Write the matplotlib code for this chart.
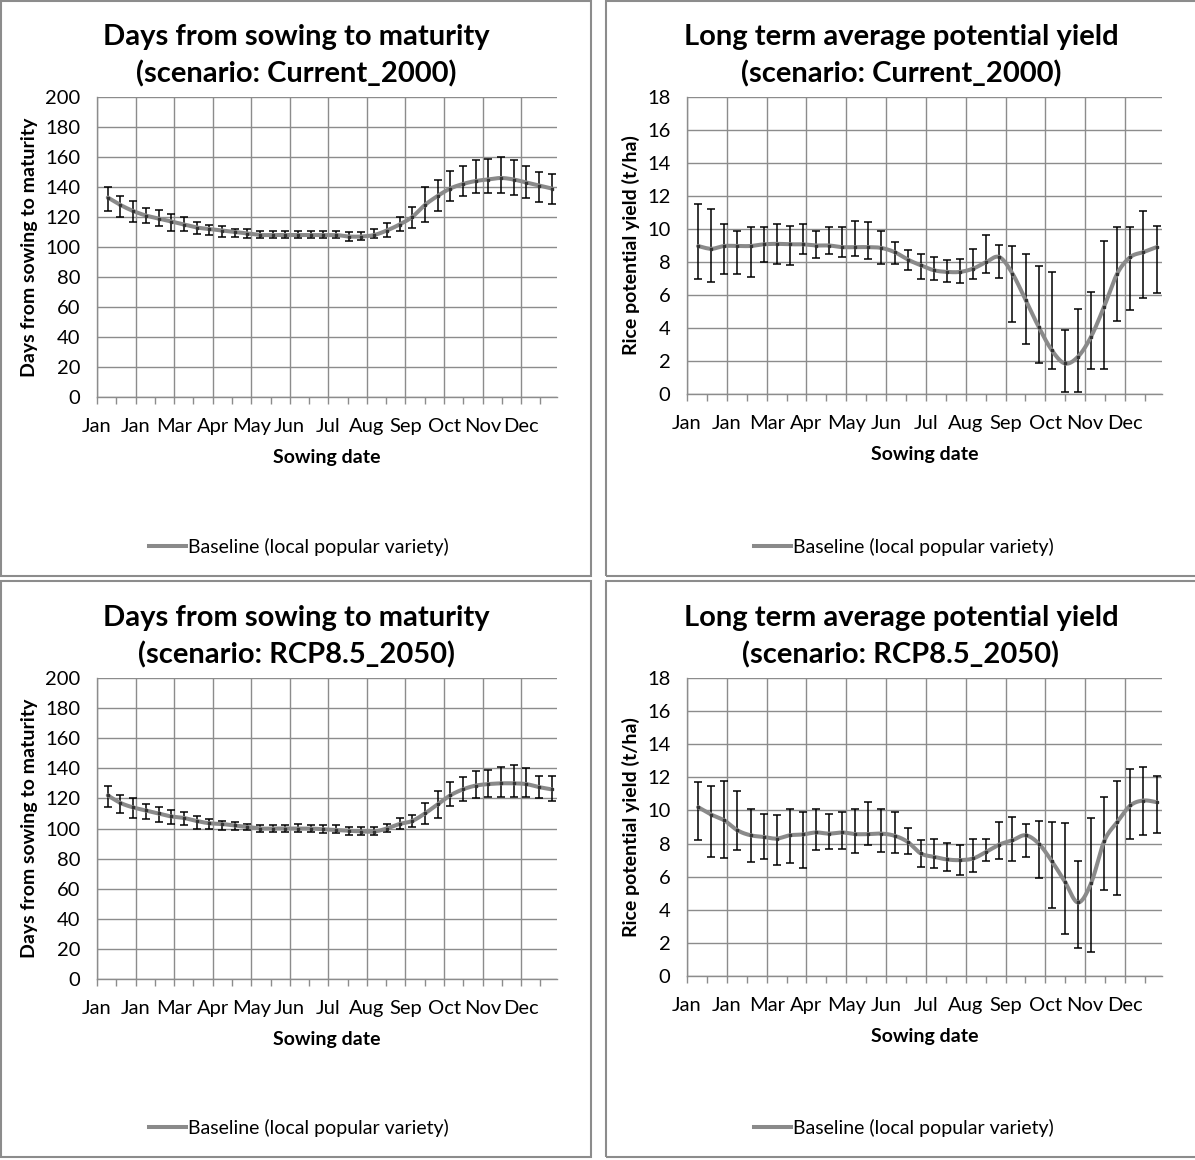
import matplotlib
matplotlib.use("Agg")
import matplotlib.pyplot as plt
from matplotlib.lines import Line2D
from matplotlib.patches import Rectangle
import numpy as np

plt.rcParams['font.family'] = ['Lato', 'DejaVu Sans']

# sowing dates: 36 dates, every 10 days from ~9 Jan (day of year)
sow_day = np.arange(36) * 10 + 8.5
month_labels = ["Jan", "Jan", "Mar", "Apr", "May", "Jun", "Jul", "Aug", "Sep", "Oct", "Nov", "Dec"]

# days from sowing to maturity, Current_2000
days_cur = [133, 128, 124, 121, 119, 117, 115, 113, 112, 111, 110, 109,
            108, 108, 108, 108, 108, 108, 108, 107, 107, 108, 111, 115,
            120, 128, 134, 139, 142, 144, 145, 146, 145, 143, 141, 139]
days_cur_hi = [140, 134, 131, 126, 125, 122, 120, 117, 115, 114, 112, 112,
               111, 111, 111, 111, 111, 111, 111, 110, 110, 112, 116, 120,
               127, 140, 145, 151, 154, 158, 159, 160, 158, 154, 150, 149]
days_cur_lo = [124, 120, 117, 116, 114, 111, 111, 109, 108, 107, 107, 106,
               106, 106, 106, 106, 106, 106, 106, 104, 105, 106, 107, 111,
               113, 117, 124, 131, 134, 136, 136, 136, 135, 133, 130, 129]

# days from sowing to maturity, RCP8.5_2050
days_rcp = [122, 117, 114, 112, 110, 108, 107, 105, 103.5, 103, 102, 101,
            100, 100, 100, 100, 100, 99.5, 99, 98.5, 98, 98, 100, 103,
            105, 110, 116, 122, 126, 128.5, 129.5, 130, 130, 129.5, 127.5, 126]
days_rcp_hi = [128, 122, 120, 116, 114, 112, 111, 108, 106, 105, 104, 103,
               102, 102, 102, 103, 102, 102, 102, 101, 101, 101, 103, 107,
               109, 117, 125, 131, 134, 138.5, 139, 141, 142, 140, 135, 135]
days_rcp_lo = [114, 110, 107, 106, 104, 103, 102, 100, 100, 99, 99, 99,
               98, 98, 98, 98, 98, 97, 97, 96, 96, 96, 98, 100,
               101, 103, 107, 115, 118, 120, 121, 121, 121, 121, 120, 118]

# rice potential yield (t/ha), Current_2000
yld_cur = [8.97, 8.8, 8.97, 8.97, 8.97, 9.07, 9.1, 9.07, 9.07, 9.0, 9.0, 8.9,
           8.9, 8.9, 8.85, 8.6, 8.15, 7.8, 7.5, 7.4, 7.4, 7.6, 8.0, 8.3,
           7.3, 5.7, 4.07, 2.66, 1.85, 2.26, 3.47, 5.3, 7.3, 8.3, 8.6, 8.9]
yld_cur_hi = [11.5, 11.2, 10.3, 9.86, 10.1, 10.1, 10.3, 10.2, 10.3, 9.9, 10.1, 10.1,
              10.5, 10.4, 9.9, 9.2, 8.7, 8.5, 8.3, 8.1, 8.2, 8.8, 9.66, 9.05,
              8.97, 8.47, 7.74, 7.38, 3.9, 5.16, 6.2, 9.25, 10.1, 10.1, 11.1, 10.2]
yld_cur_lo = [7.0, 6.8, 7.3, 7.3, 7.1, 8.0, 7.9, 7.8, 8.47, 8.25, 8.5, 8.3,
              8.35, 8.2, 7.9, 7.9, 7.5, 7.0, 6.9, 6.8, 6.7, 7.0, 7.34, 7.04,
              4.37, 3.06, 1.9, 1.5, 0.14, 0.14, 1.5, 1.5, 4.4, 5.08, 5.8, 6.15]

# rice potential yield (t/ha), RCP8.5_2050
yld_rcp = [10.2, 9.75, 9.4, 8.8, 8.5, 8.4, 8.3, 8.5, 8.55, 8.67, 8.6, 8.67,
           8.57, 8.57, 8.6, 8.47, 8.1, 7.4, 7.2, 7.04, 7.0, 7.1, 7.5, 7.94,
           8.2, 8.5, 8.0, 6.94, 5.7, 4.44, 5.6, 8.14, 9.3, 10.3, 10.6, 10.5]
yld_rcp_hi = [11.7, 11.5, 11.8, 11.2, 10.1, 9.8, 9.7, 10.1, 9.9, 10.1, 9.8, 9.9,
              10.1, 10.5, 10.1, 9.9, 8.95, 8.2, 8.3, 8.04, 7.9, 8.27, 8.3, 9.3,
              9.6, 9.2, 9.37, 9.3, 9.25, 6.96, 9.56, 10.8, 11.8, 12.5, 12.6, 12.1]
yld_rcp_lo = [8.2, 7.2, 7.1, 7.6, 6.9, 7.05, 6.7, 6.8, 6.55, 7.64, 7.7, 7.7,
              7.4, 7.9, 7.5, 7.4, 7.36, 6.6, 6.5, 6.35, 6.13, 6.3, 6.94, 7.06,
              6.96, 7.16, 5.9, 4.1, 2.56, 1.7, 1.45, 5.2, 4.9, 8.3, 8.5, 8.65]

W, H = 1195, 1160
MONTH = 30.4
GRID = "#8c8c8c"
LINE = "#8a8a8a"


def smooth(x, y, n=20):
    # excel-like smoothed line (bezier through the points)
    x = np.asarray(x, float)
    y = np.asarray(y, float)
    px = np.concatenate([[x[0]], x, [x[-1]]])
    py = np.concatenate([[y[0]], y, [y[-1]]])
    xs, ys = [], []
    t = np.linspace(0, 1, n)
    for i in range(1, len(px) - 2):
        p0x, p1x, p2x, p3x = px[i - 1], px[i], px[i + 1], px[i + 2]
        p0y, p1y, p2y, p3y = py[i - 1], py[i], py[i + 1], py[i + 2]
        c1x, c1y = p1x + (p2x - p0x) / 6, p1y + (p2y - p0y) / 6
        c2x, c2y = p2x - (p3x - p1x) / 6, p2y - (p3y - p1y) / 6
        bx = (1 - t) ** 3 * p1x + 3 * (1 - t) ** 2 * t * c1x + 3 * (1 - t) * t ** 2 * c2x + t ** 3 * p2x
        by = (1 - t) ** 3 * p1y + 3 * (1 - t) ** 2 * t * c1y + 3 * (1 - t) * t ** 2 * c2y + t ** 3 * p2y
        xs.extend(bx)
        ys.extend(by)
    return xs, ys


def px_axes(left, right, top, bottom):
    return [left / W, 1 - bottom / H, (right - left) / W, (bottom - top) / H]


def panel(rect, mean, hi, lo, ymax, ystep, title, ylabel, ylab_x, top_px, pcx):
    ax = fig.add_axes(rect)
    mean = np.asarray(mean)
    err = [mean - np.asarray(lo), np.asarray(hi) - mean]
    ax.errorbar(sow_day, mean, yerr=err, fmt="none", ecolor="black",
                elinewidth=1.1, capsize=2.6, capthick=1.1, zorder=3)
    sx, sy = smooth(sow_day, mean)
    ax.plot(sx, sy, color=LINE, lw=2.9, zorder=4, solid_capstyle="round")
    ax.plot(sow_day, mean, "s", ms=2.0, color="#333333", zorder=5)
    ax.set_xlim(0, 11.93 * MONTH)
    ax.set_ylim(0, ymax)
    ax.set_xticks(np.arange(12) * MONTH)
    ax.set_xticklabels(month_labels)
    ax.set_xticks(np.arange(12) * MONTH + MONTH / 2, minor=True)
    ax.set_yticks(np.arange(0, ymax + 0.01, ystep))
    ax.grid(True, which="major", color=GRID, lw=1.0)
    ax.set_axisbelow(True)
    for s in ["top", "right"]:
        ax.spines[s].set_visible(False)
    for s in ["left", "bottom"]:
        ax.spines[s].set_color(GRID)
        ax.spines[s].set_linewidth(1.0)
    ax.tick_params(axis="x", which="both", length=5, color=GRID, width=1.0, pad=10, labelsize=14.5)
    ax.tick_params(axis="y", length=0, pad=12, labelsize=14.5)
    ax.set_ylabel(ylabel, fontsize=14, fontweight="bold")
    ax.yaxis.set_label_coords(ylab_x, 0.5)
    ax.set_xlabel("Sowing date", fontsize=14, fontweight="bold", labelpad=10)

    # two-line title centred on the panel
    t1, t2 = title
    fig.text(pcx / W, 1 - (top_px + 37) / H, t1, ha="center", va="center",
             fontsize=21, fontweight="bold")
    fig.text(pcx / W, 1 - (top_px + 74) / H, t2, ha="center", va="center",
             fontsize=21, fontweight="bold")

    h = Line2D([], [], color=LINE, lw=2.9)
    ax.legend([h], ["Baseline (local popular variety)"], loc="center",
              bbox_to_anchor=((pcx + 3) / W, 1 - (top_px + 547) / H),
              bbox_transform=fig.transFigure,
              frameon=False, fontsize=14, handlelength=1.9, handletextpad=0.1)
    return ax


fig = plt.figure(figsize=(W / 100, H / 100), dpi=100)

# panel frames
for (x0, y0, x1, y1) in [(1, 1, 591, 576), (606, 1, 1200, 576),
                         (1, 581, 591, 1157), (606, 581, 1200, 1157)]:
    fig.patches.append(Rectangle((x0 / W, 1 - y1 / H), (x1 - x0) / W, (y1 - y0) / H,
                                 transform=fig.transFigure, fill=False,
                                 edgecolor="#8c8c8c", lw=1.5))

panel(px_axes(97, 557, 97, 397), days_cur, days_cur_hi, days_cur_lo, 200, 20,
      ("Days from sowing to maturity", "(scenario: Current_2000)"),
      "Days from sowing to maturity", -0.128, 0, 296)
panel(px_axes(687, 1162, 97, 394), yld_cur, yld_cur_hi, yld_cur_lo, 18, 2,
      ("Long term average potential yield", "(scenario: Current_2000)"),
      "Rice potential yield (t/ha)", -0.099, 0, 901)
panel(px_axes(97, 557, 678, 979), days_rcp, days_rcp_hi, days_rcp_lo, 200, 20,
      ("Days from sowing to maturity", "(scenario: RCP8.5_2050)"),
      "Days from sowing to maturity", -0.128, 581, 296)
panel(px_axes(687, 1162, 678, 976), yld_rcp, yld_rcp_hi, yld_rcp_lo, 18, 2,
      ("Long term average potential yield", "(scenario: RCP8.5_2050)"),
      "Rice potential yield (t/ha)", -0.099, 581, 901)

fig.savefig("out.png", dpi=100)
